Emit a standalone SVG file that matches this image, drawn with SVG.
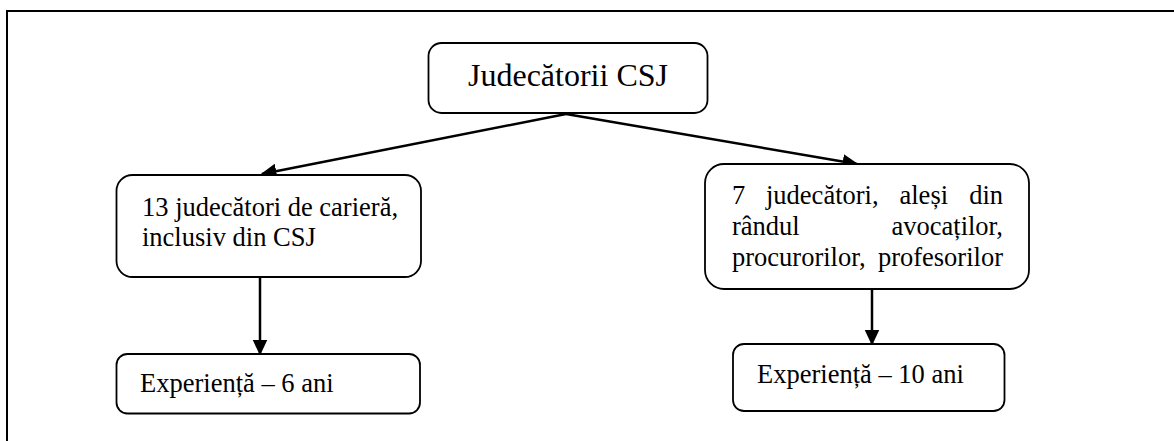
<svg xmlns="http://www.w3.org/2000/svg" width="1174" height="441" viewBox="0 0 1174 441">
<style>
.box{fill:#fff;stroke:#000;stroke-width:1.8}
.t{font-family:'Liberation Serif','Times New Roman',Tinos,'DejaVu Serif',serif;font-size:26.5px;fill:#000}
.conn line{stroke:#000;stroke-width:2.5}
</style>
<defs>
<marker id="ah" markerUnits="userSpaceOnUse" markerWidth="16" markerHeight="16" viewBox="0 0 16 16" refX="14.5" refY="8" orient="auto">
<path d="M0,0.5 L16,8 L0,15.5 z" fill="#000"/>
</marker>
</defs>
<rect width="1174" height="441" fill="#fff"/>
<path d="M7,441 V11 H1174" fill="none" stroke="#000" stroke-width="2"/>
<g id="conns" class="conn">
<line x1="566" y1="114" x2="262" y2="174" marker-end="url(#ah)"/>
<line x1="566" y1="114" x2="857" y2="164" marker-end="url(#ah)"/>
<line x1="260" y1="277" x2="260" y2="354" marker-end="url(#ah)"/>
<line x1="872" y1="289" x2="872" y2="344" marker-end="url(#ah)"/>
</g>
<g id="top" font-family="Liberation Serif, serif">
<rect class="box" x="428.5" y="43" width="279" height="70" rx="13"/>
<text class="t" x="568" y="86" text-anchor="middle" style="font-size:32px">Judecătorii CSJ</text>
</g>
<g id="left" font-family="Liberation Serif, serif">
<rect class="box" x="116.5" y="175" width="304.5" height="102" rx="16"/>
<text class="t" x="142" y="216">13 judecători de carieră,</text>
<text class="t" x="142" y="246">inclusiv din CSJ</text>
</g>
<g id="right" font-family="Liberation Serif, serif">
<rect class="box" x="705" y="164" width="324" height="125" rx="19"/>
<text class="t" y="204"><tspan x="732">7</tspan><tspan x="766">judecători,</tspan><tspan x="899.5">aleși</tspan></text>
<text class="t" x="1003" y="204" text-anchor="end">din</text>
<text class="t" x="732" y="235">rândul</text>
<text class="t" x="1003" y="235" text-anchor="end">avocaților,</text>
<text class="t" x="732" y="266">procurorilor,</text>
<text class="t" x="1003" y="266" text-anchor="end">profesorilor</text>
</g>
<g id="left-bottom" font-family="Liberation Serif, serif">
<rect class="box" x="116.5" y="354" width="303.5" height="59.5" rx="11"/>
<text class="t" x="140" y="392">Experiență – 6 ani</text>
</g>
<g id="right-bottom" font-family="Liberation Serif, serif">
<rect class="box" x="733" y="344" width="271.5" height="67" rx="11"/>
<text class="t" x="757" y="383">Experiență – 10 ani</text>
</g>
</svg>
